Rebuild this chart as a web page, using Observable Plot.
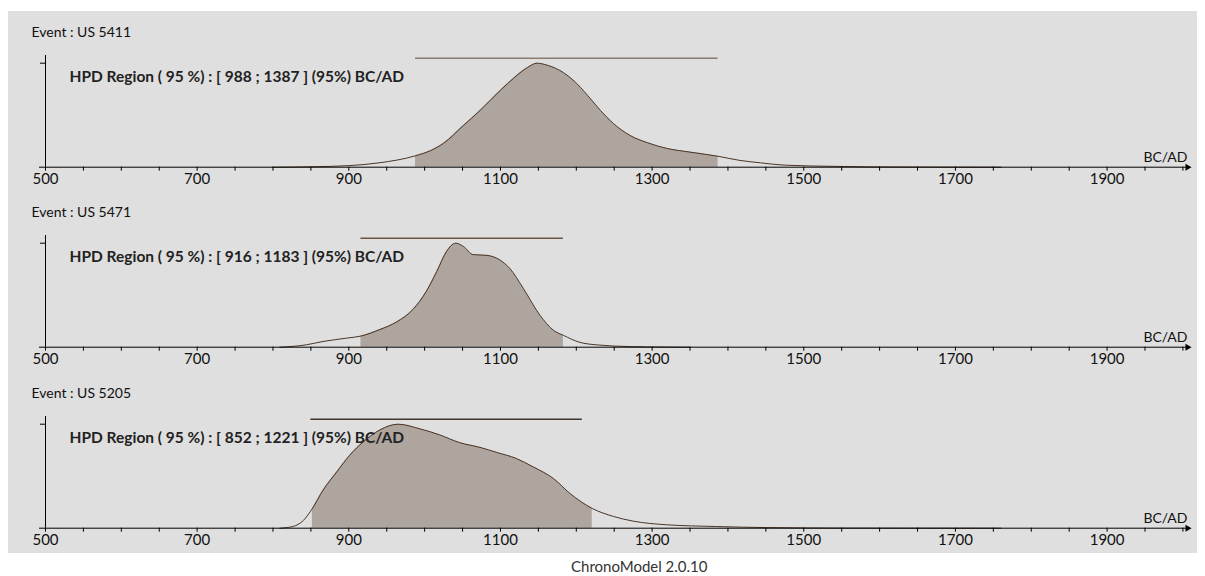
<!DOCTYPE html>
<html><head><meta charset="utf-8">
<script src="https://cdn.jsdelivr.net/npm/d3@7"></script>
<script src="https://cdn.jsdelivr.net/npm/@observablehq/plot@0.6"></script>
<style>
body{margin:0;background:#fff;font-family:Lato,sans-serif;}
#wrap{position:absolute;left:8px;top:11px;width:1189px;background:#dfdfdf;}
#wrap svg{display:block;}
#cap{position:absolute;left:571px;top:557px;font-size:15px;color:#333;white-space:nowrap;}
</style></head><body>
<div id="wrap"></div><div id="cap">ChronoModel 2.0.10</div>
<script>
// ---- data ----
const events = ["US 5411", "US 5471", "US 5205"];
const hpdLow = [988, 916, 852];
const hpdHigh = [1387, 1183, 1221];
// extent of the bar drawn above each curve
const barLow = [988, 916, 850];
const barHigh = [1387, 1183, 1208];

const years1 = [800, 850, 900, 940, 988, 1008, 1025, 1051, 1073, 1100, 1118, 1136, 1148, 1162, 1183, 1197, 1215, 1232, 1249, 1271, 1294, 1320, 1350, 1387, 1416, 1443, 1474, 1540, 1628, 1760];
const dens1  = [0, 0.004, 0.015, 0.042, 0.11, 0.16, 0.23, 0.40, 0.545, 0.74, 0.86, 0.96, 1.0, 0.98, 0.91, 0.83, 0.69, 0.545, 0.42, 0.305, 0.235, 0.18, 0.145, 0.105, 0.065, 0.042, 0.02, 0.008, 0.002, 0];

const years2 = [809, 844, 866, 897, 916, 941, 963, 985, 1002, 1016, 1029, 1041, 1051, 1064, 1082, 1099, 1112, 1130, 1152, 1170, 1183, 1205, 1231, 1271, 1314, 1350];
const dens2  = [0, 0.023, 0.055, 0.087, 0.107, 0.17, 0.243, 0.366, 0.534, 0.728, 0.922, 1.0, 0.97, 0.89, 0.883, 0.84, 0.76, 0.567, 0.308, 0.162, 0.114, 0.046, 0.02, 0.006, 0.002, 0];

const years3 = [809, 826, 840, 852, 866, 884, 901, 919, 941, 965, 994, 1020, 1046, 1073, 1095, 1121, 1143, 1170, 1192, 1221, 1249, 1275, 1319, 1385, 1451, 1560, 1760];
const dens3  = [0, 0.016, 0.074, 0.19, 0.365, 0.54, 0.70, 0.83, 0.945, 1.0, 0.955, 0.897, 0.823, 0.777, 0.729, 0.67, 0.59, 0.477, 0.332, 0.19, 0.113, 0.068, 0.033, 0.016, 0.006, 0.001, 0];

const labelTicks = [500, 700, 900, 1100, 1300, 1500, 1700, 1900];
const minorTicks = d3.range(500, 2001, 50);
const xDomain = [500, 2010];
const yDomain = [0, 1.074];

// ---- styles ----
const years = [years1, years2, years3];
const dens = [dens1, dens2, dens3];
const hpdLineColors = ["#8a7b70", "#6e5445", "#45342a"];
const heights = [180, 181, 181];

const wrap = document.getElementById("wrap");
years.forEach((yrs, i) => {
  const data = yrs.map((x, j) => ({x, y: dens[i][j]}));
  const lo = hpdLow[i], hi = hpdHigh[i];
  const inHpd = data.filter(d => d.x >= lo && d.x <= hi);
  const h = heights[i];
  const chart = Plot.plot({
    width: 1189, height: h,
    marginLeft: 37, marginRight: 7, marginTop: 44, marginBottom: h - 155.7,
    x: {domain: xDomain, label: null},
    y: {domain: yDomain, label: null},
    style: {background: "transparent", fontFamily: "Lato, sans-serif", fontSize: "15px", color: "#111", overflow: "visible"},
    marks: [
      Plot.areaY(inHpd, {x: "x", y: "y", curve: "monotone-x", fill: "#aea59e"}),
      Plot.line(data, {x: "x", y: "y", curve: "monotone-x", stroke: "#4a3526", strokeWidth: 1}),
      Plot.ruleY([d3.max(dens[i])], {x1: barLow[i], x2: barHigh[i], dy: -5, stroke: hpdLineColors[i], strokeWidth: 1.5}),
      Plot.ruleY([0], {insetLeft: -6, stroke: "#000"}),
      Plot.ruleX([xDomain[0]], {y1: yDomain[0], y2: yDomain[1], stroke: "#000"}),
      Plot.dot([xDomain[1]], {x: d => d, y: 0, symbol: "triangle", rotate: 90, r: 2.6, dx: -3, fill: "#000", stroke: null}),
      Plot.axisX({ticks: minorTicks, tickSize: 4, tickFormat: () => "", stroke: "#000", label: null}),
      Plot.axisX({ticks: labelTicks, tickSize: 0, tickPadding: 6, fontSize: 15, tickFormat: d => String(d), label: null}),
      Plot.axisY({ticks: [1], tickSize: 5, tickFormat: () => "", stroke: "#000", label: null}),
      Plot.text([`HPD Region ( 95 %) : [ ${lo} ; ${hi} ] (95%) BC/AD`], {frameAnchor: "top-left", dx: 24, dy: 22, textAnchor: "start", lineAnchor: "middle", fontWeight: "bold", fontSize: 15.5, fill: "#222"}),
      Plot.text([`Event : ${events[i]}`], {frameAnchor: "top-left", dx: -14, dy: -22.5, textAnchor: "start", lineAnchor: "middle", fontSize: 14, fill: "#111"}),
      Plot.text(["BC/AD"], {frameAnchor: "bottom-right", dx: -3, dy: -9.5, textAnchor: "end", lineAnchor: "middle", fontSize: 14, fill: "#111"})
    ]
  });
  wrap.appendChild(chart);
});
</script>
</body></html>
